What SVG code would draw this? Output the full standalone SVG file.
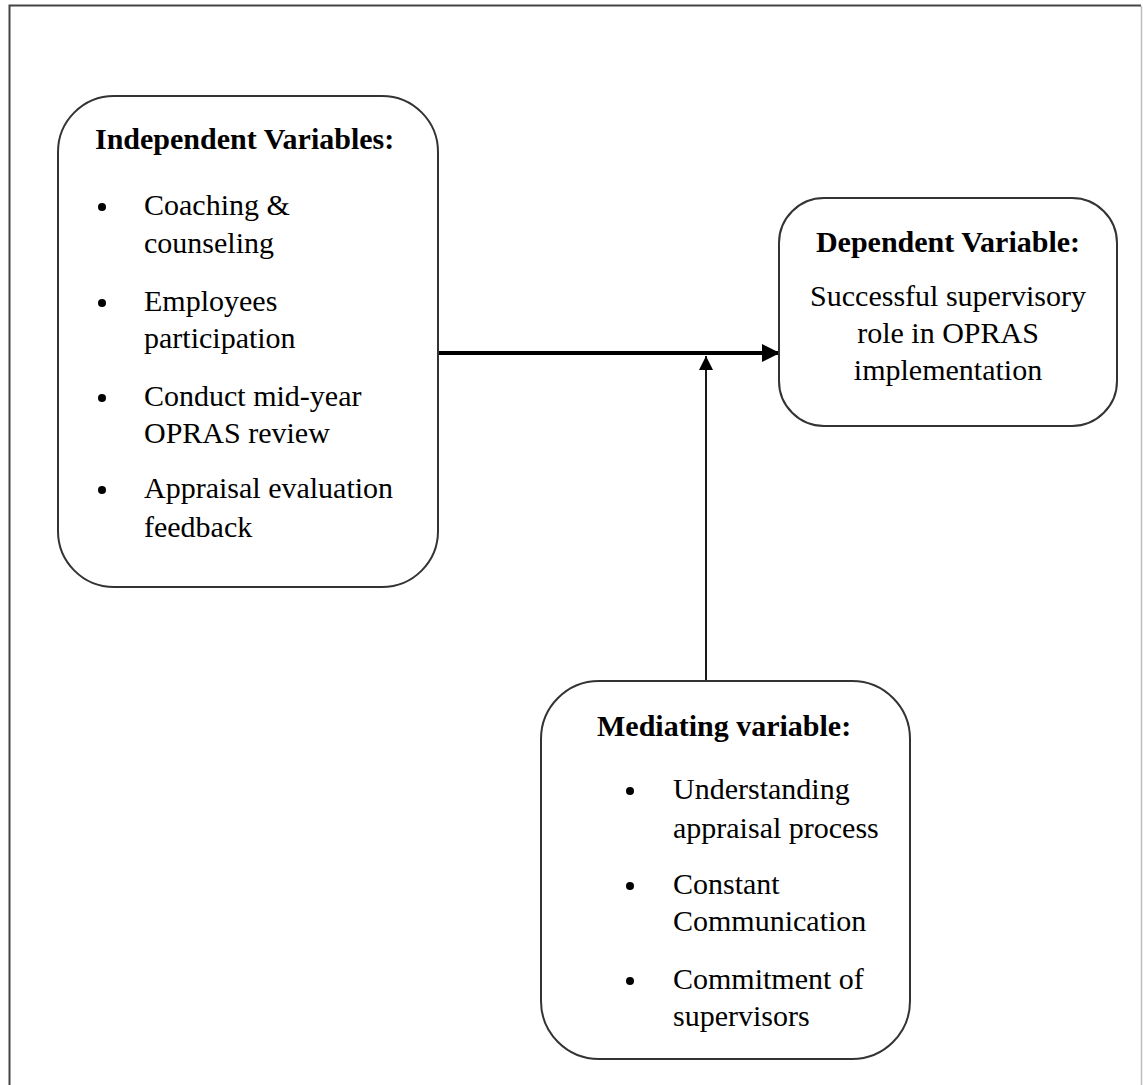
<svg xmlns="http://www.w3.org/2000/svg" width="1143" height="1085" viewBox="0 0 1143 1085">
<style>
.box{fill:#fff;stroke:#333;stroke-width:2}
text{font-family:"Liberation Serif","Times New Roman",serif;font-size:30px;fill:#000}
.b{font-weight:bold}
.c{text-anchor:middle}
.dot{fill:#000}
</style>
<defs>
<marker id="ah" markerUnits="userSpaceOnUse" markerWidth="20" markerHeight="18" refX="18" refY="9" orient="auto">
<path d="M0,0 L18,9 L0,18 Z" fill="#000"/>
</marker>
<marker id="ah2" markerUnits="userSpaceOnUse" markerWidth="14" markerHeight="16" refX="14" refY="7" orient="auto">
<path d="M0,0 L14,7 L0,14 Z" fill="#000"/>
</marker>
</defs>
<rect width="1143" height="1085" fill="#fff"/>
<path d="M9.5,1085 V5.5 H1141" fill="none" stroke="#444" stroke-width="2"/>
<path d="M1141.5,6 V1085" fill="none" stroke="#bbb" stroke-width="1.5"/>
<g id="connectors">
<line x1="438" y1="353" x2="780" y2="353" stroke="#000" stroke-width="4" marker-end="url(#ah)"/>
<line x1="706" y1="681" x2="706" y2="356" stroke="#000" stroke-width="1.8" marker-end="url(#ah2)"/>
</g>
<g id="independent">
<rect class="box" x="58" y="96" width="380" height="491" rx="56" ry="56"/>
<text class="b" x="95" y="149">Independent Variables:</text>
<circle class="dot" cx="102" cy="207" r="4"/>
<text x="144" y="215">Coaching &amp;</text>
<text x="144" y="253">counseling</text>
<circle class="dot" cx="102" cy="303" r="4"/>
<text x="144" y="311">Employees</text>
<text x="144" y="348">participation</text>
<circle class="dot" cx="102" cy="398" r="4"/>
<text x="144" y="406">Conduct mid-year</text>
<text x="144" y="443">OPRAS review</text>
<circle class="dot" cx="102" cy="490" r="4"/>
<text x="144" y="498">Appraisal evaluation</text>
<text x="144" y="537">feedback</text>
</g>
<g id="dependent">
<rect class="box" x="779" y="198" width="338" height="228" rx="45" ry="45"/>
<text class="b c" x="948" y="252">Dependent Variable:</text>
<text class="c" x="948" y="306">Successful supervisory</text>
<text class="c" x="948" y="343">role in OPRAS</text>
<text class="c" x="948" y="380">implementation</text>
</g>
<g id="mediating">
<rect class="box" x="541" y="681" width="369" height="378" rx="58" ry="58"/>
<text class="b" x="597" y="736">Mediating variable:</text>
<circle class="dot" cx="630" cy="791" r="4"/>
<text x="673" y="799">Understanding</text>
<text x="673" y="838">appraisal process</text>
<circle class="dot" cx="630" cy="886" r="4"/>
<text x="673" y="894">Constant</text>
<text x="673" y="931">Communication</text>
<circle class="dot" cx="630" cy="981" r="4"/>
<text x="673" y="989">Commitment of</text>
<text x="673" y="1026">supervisors</text>
</g>
</svg>
